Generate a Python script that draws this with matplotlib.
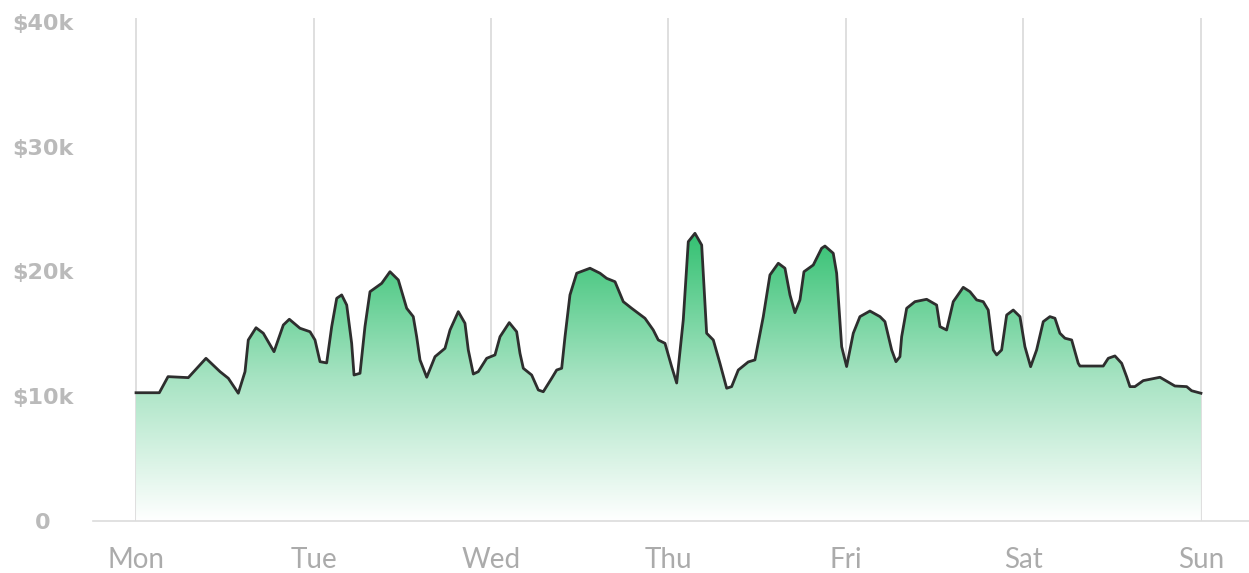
import numpy as np
import matplotlib.pyplot as plt
from matplotlib.colors import LinearSegmentedColormap

# hours since Monday 00:00, revenue in $k
hours = [0, 3.15, 4.33, 7.07, 9.46, 11.36, 12.48, 13.83, 14.74, 15.18, 16.23, 17.21, 18.66, 19.92,
         20.73, 22.17, 23.53, 24.20, 24.88, 25.78, 26.46, 27.14, 27.81, 28.49, 29.16, 29.48, 30.29,
         30.96, 31.64, 33.22, 34.34, 35.47, 36.60, 37.49, 37.95, 38.40, 39.31, 40.43, 41.78, 42.46,
         43.58, 44.48, 44.93, 45.61, 46.28, 47.42, 48.54, 49.22, 50.47, 51.47, 51.92, 52.37, 53.50,
         54.40, 55.07, 56.21, 56.88, 57.56, 58.01, 58.68, 59.59, 61.39, 62.74, 63.64, 64.77, 65.89,
         67.02, 68.82, 69.94, 70.62, 71.53, 72.43, 73.11, 74.00, 74.68, 75.58, 76.49, 77.16, 78.06,
         78.96, 79.87, 80.54, 81.44, 82.79, 83.69, 84.82, 85.72, 86.85, 87.75, 88.43, 89.10, 89.78,
         90.32, 91.58, 92.71, 93.16, 94.28, 94.74, 95.42, 96.09, 96.99, 97.89, 99.24, 100.60, 101.27,
         102.18, 102.76, 103.30, 103.53, 104.21, 105.33, 106.91, 108.26, 108.71, 109.61, 110.51,
         111.86, 112.77, 113.67, 114.56, 115.24, 115.92, 116.38, 117.05, 117.73, 118.62, 119.53,
         120.20, 120.97, 121.78, 122.68, 123.58, 124.26, 124.93, 125.61, 126.52, 127.41, 127.64,
         130.79, 131.47, 132.37, 133.28, 133.95, 134.40, 135.07, 136.20, 138.46, 140.48, 142.07,
         142.74, 144.0]
revenue = [10.28, 10.28, 11.57, 11.49, 13.04, 11.97, 11.44, 10.24, 11.97, 14.51, 15.49, 15.05, 13.57,
           15.71, 16.17, 15.45, 15.17, 14.51, 12.77, 12.67, 15.58, 17.85, 18.12, 17.31, 14.24, 11.70,
           11.84, 15.58, 18.38, 19.05, 19.98, 19.32, 17.05, 16.38, 14.77, 12.91, 11.52, 13.17, 13.84,
           15.31, 16.78, 15.85, 13.71, 11.78, 11.97, 13.04, 13.31, 14.77, 15.90, 15.17, 13.44, 12.24,
           11.70, 10.50, 10.36, 11.44, 12.10, 12.24, 14.77, 18.12, 19.86, 20.26, 19.86, 19.45, 19.18,
           17.58, 17.05, 16.25, 15.31, 14.51, 14.24, 12.37, 11.06, 16.11, 22.39, 23.06, 22.12, 15.05,
           14.51, 12.64, 10.64, 10.77, 12.10, 12.75, 12.91, 16.38, 19.72, 20.66, 20.26, 18.12, 16.70,
           17.72, 19.98, 20.52, 21.86, 22.04, 21.46, 19.86, 13.97, 12.38, 15.05, 16.38, 16.83, 16.38,
           15.98, 13.71, 12.77, 13.17, 14.77, 17.05, 17.58, 17.77, 17.31, 15.58, 15.31, 17.58, 18.73,
           18.38, 17.72, 17.58, 16.91, 13.71, 13.31, 13.71, 16.51, 16.91, 16.38, 13.97, 12.37, 13.71,
           15.98, 16.38, 16.25, 15.05, 14.65, 14.51, 12.64, 12.42, 12.42, 13.04, 13.23, 12.64, 11.57,
           10.77, 10.77, 11.25, 11.52, 10.82, 10.77, 10.44, 10.24]

days = ['Mon', 'Tue', 'Wed', 'Thu', 'Fri', 'Sat', 'Sun']
day_ticks = [0, 24, 48, 72, 96, 120, 144]
y_ticks = [0, 10, 20, 30, 40]
y_labels = ['0', '$10k', '$20k', '$30k', '$40k']

x = np.array(hours)
y = np.array(revenue)

fig = plt.figure(figsize=(12.49, 5.73), dpi=100)
ax = fig.add_axes([0.0745, 0.0908, 0.9255, 0.8778])

# vertical day lines
for d in day_ticks:
    ax.axvline(d, color='#d6d6d6', lw=1.1, zorder=1)

# gradient fill under the line
cmap = LinearSegmentedColormap.from_list('g', ['#ffffff', '#a6e3c2', '#34c172'])
grad = np.linspace(0, 1, 256).reshape(-1, 1)
poly = ax.fill_between(x, 0, y, color='none', lw=0)
img = ax.imshow(grad, cmap=cmap, aspect='auto', origin='lower',
                extent=[x.min(), x.max(), 0, y.max()], zorder=2)
img.set_clip_path(poly.get_paths()[0], transform=ax.transData)
ax.set_xlim(-5.81, 150.5)
ax.set_ylim(0, 40.32)

ax.plot(x, y, color='#2e2e2e', lw=2.0, zorder=3, solid_joinstyle='round')

for s in ['top', 'right', 'left']:
    ax.spines[s].set_visible(False)
ax.spines['bottom'].set_color('#dcdcdc')
ax.spines['bottom'].set_linewidth(1.2)

ax.set_xticks(day_ticks)
ax.set_xticklabels(days, fontfamily='Lato', fontweight='normal', fontsize=20, color='#ababab')
ax.set_yticks(y_ticks)
ax.set_yticklabels(y_labels, fontfamily='DejaVu Sans', fontweight='bold', fontsize=16,
                   color='#bababa', ha='center')
ax.tick_params(axis='x', length=0, pad=19)
ax.tick_params(axis='y', length=0, pad=36)

plt.savefig('out.png', dpi=100)
